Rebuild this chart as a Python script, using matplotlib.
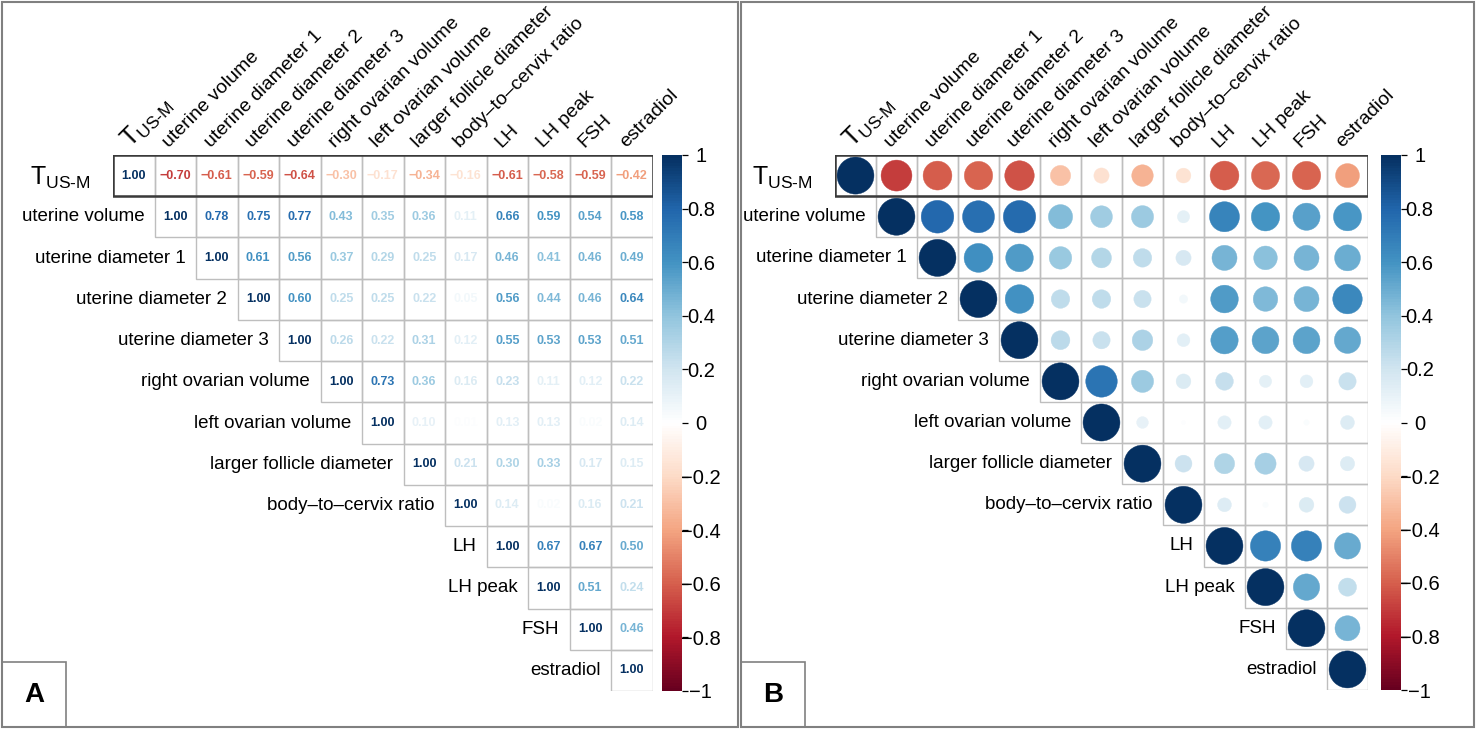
import numpy as np
import matplotlib
matplotlib.use("Agg")
import matplotlib.pyplot as plt
from matplotlib.patches import Rectangle, Circle
from matplotlib.colors import LinearSegmentedColormap, Normalize
from matplotlib.cm import ScalarMappable

plt.rcParams['font.family'] = ['Liberation Sans', 'DejaVu Sans']
plt.rcParams['mathtext.fontset'] = 'custom'
plt.rcParams['mathtext.rm'] = 'Liberation Sans'
plt.rcParams['mathtext.it'] = 'Liberation Sans:italic'
plt.rcParams['mathtext.bf'] = 'Liberation Sans:bold'

# ---------------- data ----------------
variables = [r'T$_{\mathrm{US\text{-}M}}$', 'uterine volume', 'uterine diameter 1',
             'uterine diameter 2', 'uterine diameter 3', 'right ovarian volume',
             'left ovarian volume', 'larger follicle diameter', 'body\u2013to\u2013cervix ratio',
             'LH', 'LH peak', 'FSH', 'estradiol']

row_T    = [1.00, -0.70, -0.61, -0.59, -0.64, -0.30, -0.17, -0.34, -0.16, -0.61, -0.58, -0.59, -0.42]
row_uv   = [1.00, 0.78, 0.75, 0.77, 0.43, 0.35, 0.36, 0.11, 0.66, 0.59, 0.54, 0.58]
row_ud1  = [1.00, 0.61, 0.56, 0.37, 0.29, 0.25, 0.17, 0.46, 0.41, 0.46, 0.49]
row_ud2  = [1.00, 0.60, 0.25, 0.25, 0.22, 0.05, 0.56, 0.44, 0.46, 0.64]
row_ud3  = [1.00, 0.26, 0.22, 0.31, 0.12, 0.55, 0.53, 0.53, 0.51]
row_rov  = [1.00, 0.73, 0.36, 0.16, 0.23, 0.11, 0.12, 0.22]
row_lov  = [1.00, 0.10, 0.01, 0.13, 0.13, 0.02, 0.14]
row_lfd  = [1.00, 0.21, 0.30, 0.33, 0.17, 0.15]
row_bcr  = [1.00, 0.14, 0.02, 0.16, 0.21]
row_lh   = [1.00, 0.67, 0.67, 0.50]
row_lhp  = [1.00, 0.51, 0.24]
row_fsh  = [1.00, 0.46]
row_e2   = [1.00]
rows = [row_T, row_uv, row_ud1, row_ud2, row_ud3, row_rov, row_lov, row_lfd,
        row_bcr, row_lh, row_lhp, row_fsh, row_e2]

cbar_ticks = [-1, -0.8, -0.6, -0.4, -0.2, 0, 0.2, 0.4, 0.6, 0.8, 1]
cbar_labels = ['\u22121', '\u22120.8', '\u22120.6', '\u22120.4', '\u22120.2', '0',
               '0.2', '0.4', '0.6', '0.8', '1']
panel_letters = ['A', 'B']

# ---------------- style ----------------
rdbu = ["#67001F", "#B2182B", "#D6604D", "#F4A582", "#FDDBC7", "#FFFFFF",
        "#D1E5F0", "#92C5DE", "#4393C3", "#2166AC", "#053061"]
cmap = LinearSegmentedColormap.from_list('corrRdBu', rdbu, N=200)
norm = Normalize(-1, 1)

W, H = 1476, 735
fig = plt.figure(figsize=(W / 100, H / 100), dpi=100)


def fx(x):
    return x / W


def fy(y):
    return 1 - y / H


def draw_panel(grid_box, cbar_box, mode):
    x0, y0, x1, y1 = grid_box
    ax = fig.add_axes([fx(x0), fy(y1), (x1 - x0) / W, (y1 - y0) / H])
    n = len(variables)
    ax.set_xlim(0, n)
    ax.set_ylim(n, 0)
    ax.axis('off')
    for i, row in enumerate(rows):
        for k, v in enumerate(row):
            j = i + k
            ax.add_patch(Rectangle((j, i), 1, 1, fill=False, ec='#BEBEBE', lw=1.0))
            c = cmap(norm(v))
            if mode == 'number':
                txt = f'{v:.2f}'.replace('-', '\u2212')
                ax.text(j + 0.5, i + 0.5, txt, ha='center', va='center',
                        fontsize=9, fontweight='bold', color=c)
            else:
                r = 0.45 * np.sqrt(abs(v))
                ax.add_patch(Circle((j + 0.5, i + 0.5), r, fc=c, ec=c, lw=0.3))
    ax.add_patch(Rectangle((0, 0), n, 1, fill=False, ec='#3A3A3A', lw=1.8, zorder=5))
    # labels
    for i, lab in enumerate(variables):
        if i == 0:
            ax.text(i - 0.55, i + 0.55, lab, ha='right', va='center', fontsize=18)
            ax.text(i + 0.42, -0.16, lab, ha='left', va='baseline', rotation=45,
                    rotation_mode='anchor', fontsize=18)
        else:
            ax.text(i - 0.25, i + 0.5, lab, ha='right', va='center', fontsize=13.5)
            ax.text(i + 0.36, -0.16, lab, ha='left', va='baseline', rotation=45,
                    rotation_mode='anchor', fontsize=14)
    # colorbar
    cx0, cy0, cx1, cy1 = cbar_box
    cax = fig.add_axes([fx(cx0), fy(cy1), (cx1 - cx0) / W, (cy1 - cy0) / H])
    cb = fig.colorbar(ScalarMappable(norm=norm, cmap=cmap), cax=cax)
    cb.outline.set_visible(False)
    cb.set_ticks(cbar_ticks)
    cb.set_ticklabels(cbar_labels)
    cax.tick_params(axis='y', length=4.5, width=0.9, labelsize=14.5, pad=9)
    for t in cax.get_yticklabels():
        t.set_horizontalalignment('center')
    return ax


draw_panel((113, 155, 652.5, 691), (662, 155, 682, 691), 'number')
draw_panel((835, 155, 1368, 690), (1381, 155, 1401, 690), 'circle')

# panel frames & letters
frames = [(2, 2, 738, 727), (741, 2, 1474, 727)]
for (a, b, c, d), letter in zip(frames, panel_letters):
    fig.add_artist(Rectangle((fx(a), fy(d)), (c - a) / W, (d - b) / H, transform=fig.transFigure,
                             fill=False, ec='#808080', lw=1.5))
    fig.add_artist(Rectangle((fx(a), fy(d)), 64 / W, 65 / H, transform=fig.transFigure,
                             fill=False, ec='#808080', lw=1.2))
    fig.text(fx(a + 32), fy(d - 32), letter, ha='center', va='center', fontsize=20,
             fontweight='bold')

fig.savefig('out.png', dpi=100)
